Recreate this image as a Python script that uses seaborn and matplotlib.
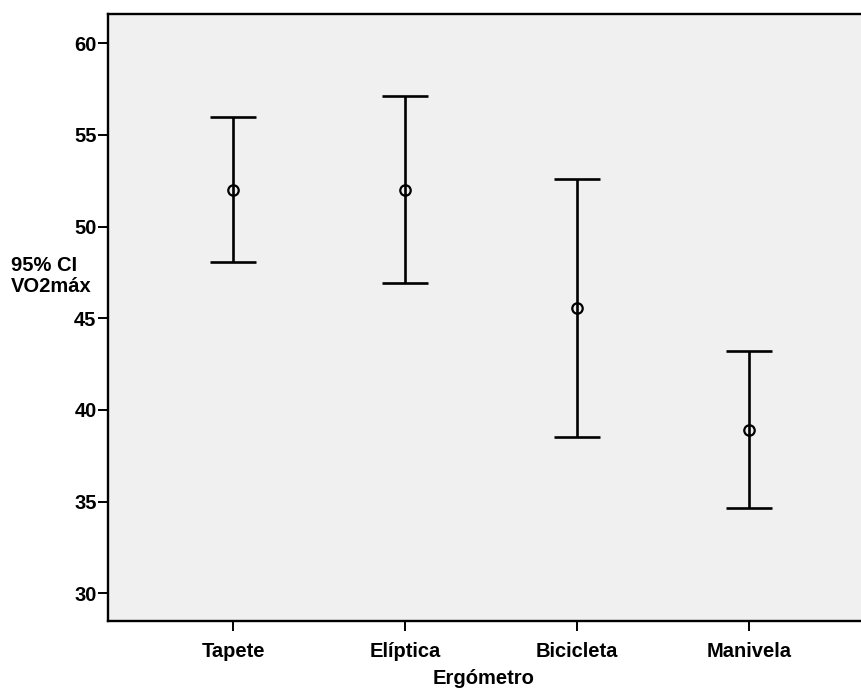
import matplotlib
matplotlib.use("Agg")
import matplotlib.pyplot as plt
import seaborn as sns
import pandas as pd

# 95% confidence intervals of VO2máx per ergometer
ergometros = ["Tapete", "Elíptica", "Bicicleta", "Manivela"]
media = [52.0, 52.0, 45.55, 38.9]
ic_inferior = [48.05, 46.9, 38.5, 34.63]
ic_superior = [55.96, 57.13, 52.58, 43.2]

df = pd.DataFrame({"Ergómetro": ergometros, "media": media,
                   "lo": ic_inferior, "hi": ic_superior})

sns.set_theme(style="ticks")
plt.rcParams["font.family"] = ["Liberation Sans", "DejaVu Sans"]
plt.rcParams["font.weight"] = "bold"
plt.rcParams["text.color"] = "black"

fig = plt.figure(figsize=(8.61, 6.88), dpi=100)
ax = fig.add_axes([108 / 861, 67 / 688, 766 / 861, 607 / 688])
ax.set_facecolor("#F0F0F0")

# interval whiskers with caps
x_pos = range(len(df))
ax.errorbar(x_pos, df["media"],
            yerr=[df["media"] - df["lo"], df["hi"] - df["media"]],
            fmt="none", ecolor="black", elinewidth=1.9,
            capsize=16.5, capthick=1.9, zorder=2)

# mean markers (open circles)
sns.pointplot(data=df, x="Ergómetro", y="media", errorbar=None,
              linestyles="none", markers="o", color="black",
              markersize=7.5, markerfacecolor="none",
              markeredgewidth=1.6, ax=ax, zorder=3)

ax.set_xlim(-0.727, 3.727)
ax.set_ylim(28.48, 61.6)
ax.set_yticks([30, 35, 40, 45, 50, 55, 60])

for side in ["left", "bottom", "top", "right"]:
    ax.spines[side].set_visible(True)
    ax.spines[side].set_linewidth(1.7)
    ax.spines[side].set_color("black")

ax.tick_params(axis="both", direction="out", length=7.2, width=1.4,
               colors="black", labelsize=14.5)
ax.tick_params(axis="y", pad=1)
ax.tick_params(axis="x", pad=8)
for lab in ax.get_xticklabels() + ax.get_yticklabels():
    lab.set_fontweight("bold")

ax.set_xlabel("")
ax.set_ylabel("")
fig.text(484 / 861, 1 - 678 / 688, "Ergómetro", ha="center", va="center",
         fontsize=14.5, fontweight="bold", color="black")
fig.text(11 / 861, 1 - 276 / 688, "95% CI\nVO2máx", ha="left", va="center",
         fontsize=14.5, fontweight="bold", color="black", linespacing=1.1)

fig.savefig("out.png", dpi=100, facecolor="white")
